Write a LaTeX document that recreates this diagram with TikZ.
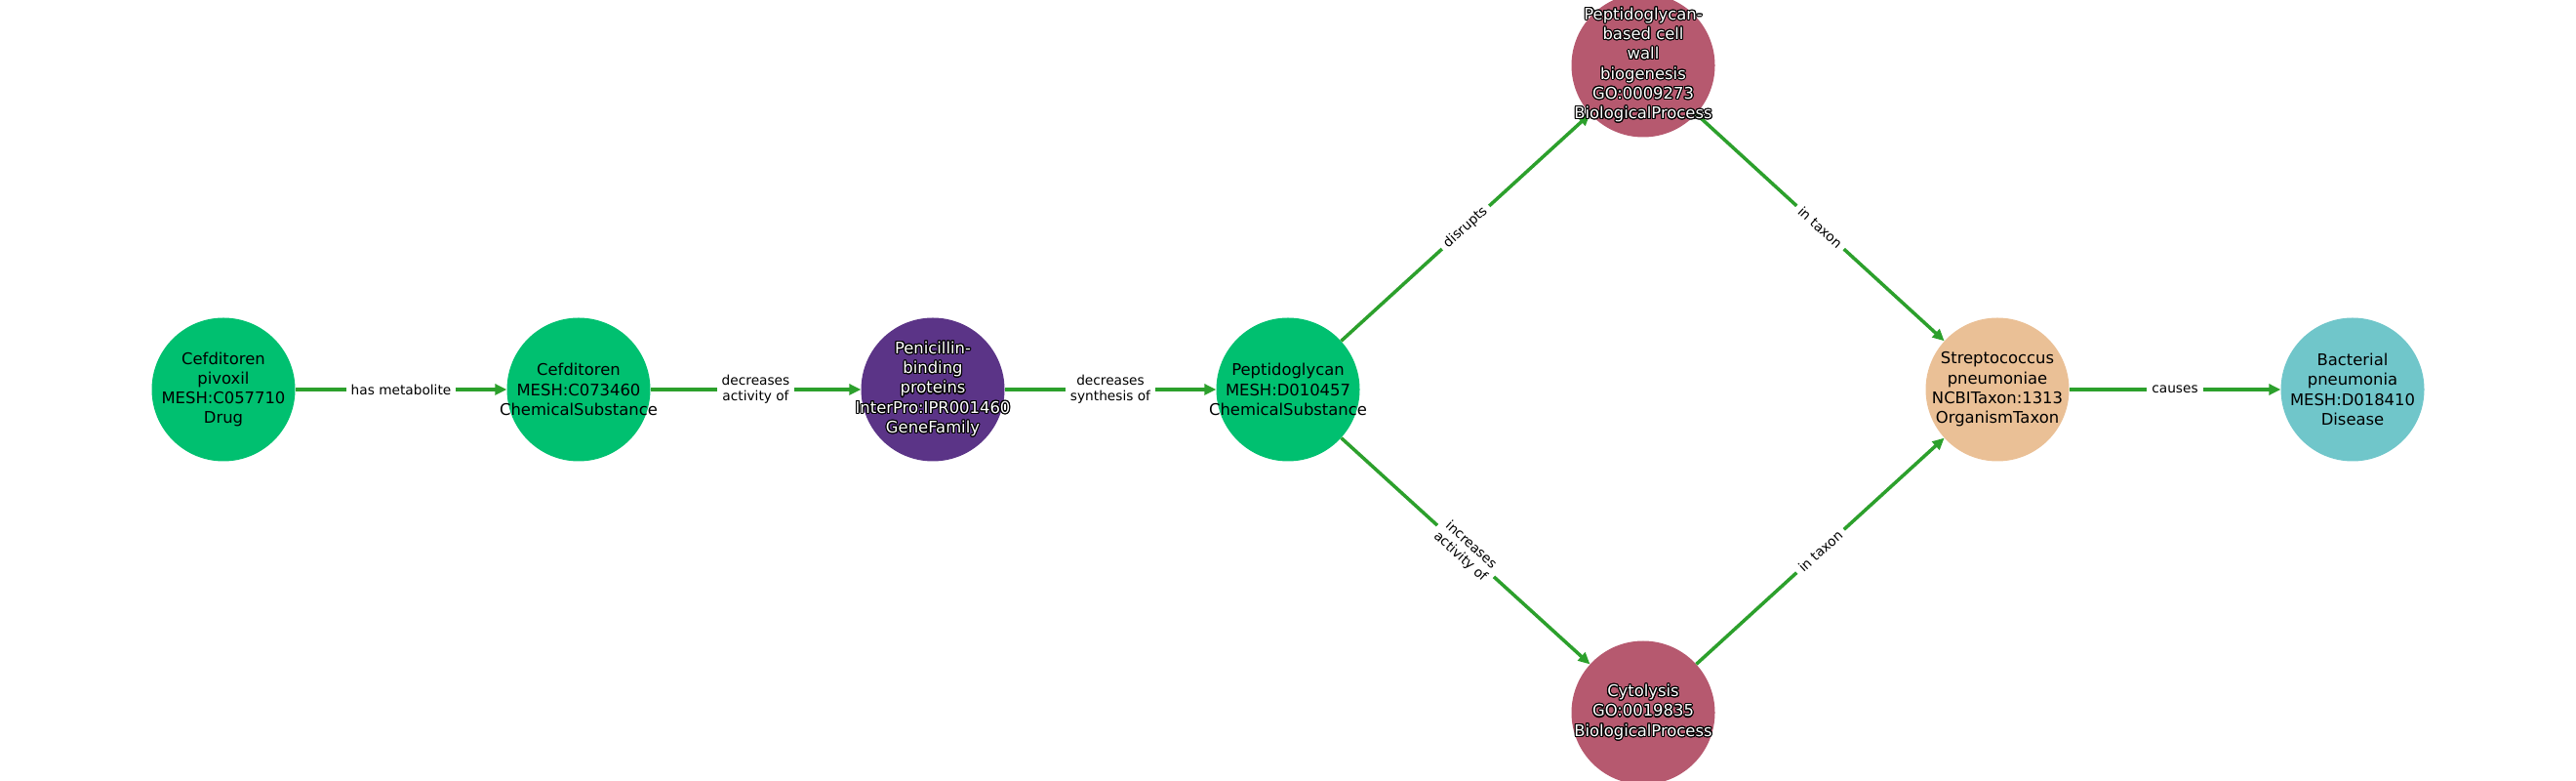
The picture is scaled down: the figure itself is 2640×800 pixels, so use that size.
\documentclass[tikz,border=0pt]{standalone}
\usepackage{fontspec}
\setmainfont{DejaVu Sans}
\usepackage{contour}
\usetikzlibrary{arrows.meta}
\definecolor{chemgreen}{RGB}{0,192,112}
\definecolor{genepurple}{RGB}{91,52,135}
\definecolor{processrose}{RGB}{182,89,111}
\definecolor{taxonpeach}{RGB}{234,192,150}
\definecolor{diseaseteal}{RGB}{112,198,202}
\definecolor{edgegreen}{RGB}{44,160,44}
\contourlength{1.1pt}
\newcommand{\outlined}[1]{\contour{black}{#1}}

\begin{document}
\begin{tikzpicture}[x=1pt, y=1pt,
    ent/.style={circle, minimum size=147pt, inner sep=0pt},
    enttext/.style={align=center, inner sep=0pt, font=\fontsize{16.4}{20.3}\selectfont},
    darktext/.style={enttext, text=white},
    edge/.style={draw=edgegreen, line width=3.5pt, -{Triangle[length=12pt,width=11pt]}},
    elbl/.style={fill=white, text=black, inner xsep=5pt, inner ysep=2pt, align=center,
        font=\fontsize{13.7}{16}\selectfont}]
    \useasboundingbox (0,0) rectangle (2640,800);

    % Entities
    \node[ent, fill=chemgreen] (drug) at (229,401) {};
    \node[ent, fill=chemgreen] (cefd) at (593,401) {};
    \node[ent, fill=genepurple] (pbp) at (956,401) {};
    \node[ent, fill=chemgreen] (pg) at (1320,401) {};
    \node[ent, fill=processrose] (wall) at (1684,733) {};
    \node[ent, fill=processrose] (lysis) at (1684,70) {};
    \node[ent, fill=taxonpeach] (strep) at (2047,401) {};
    \node[ent, fill=diseaseteal] (pneu) at (2411,401) {};

    % Relations
    \draw[edge] (drug) -- node[elbl] {has metabolite} (cefd);
    \draw[edge] (cefd) -- node[elbl] {decreases\\activity of} (pbp);
    \draw[edge] (pbp) -- node[elbl] {decreases\\synthesis of} (pg);
    \draw[edge] (pg) -- node[elbl, sloped] {disrupts} (wall);
    \draw[edge] (pg) -- node[elbl, sloped] {increases\\activity of} (lysis);
    \draw[edge] (wall) -- node[elbl, sloped] {in taxon} (strep);
    \draw[edge] (lysis) -- node[elbl, sloped] {in taxon} (strep);
    \draw[edge] (strep) -- node[elbl] {causes} (pneu);

    % Entity texts
    \node[enttext] (drug-t) at (drug) {Cefditoren\\pivoxil\\MESH:C057710\\Drug};
    \node[enttext] (cefd-t) at (cefd) {Cefditoren\\MESH:C073460\\ChemicalSubstance};
    \node[darktext] (pbp-t) at (pbp) {\outlined{Penicillin-}\\\outlined{binding}\\\outlined{proteins}\\\outlined{InterPro:IPR001460}\\\outlined{GeneFamily}};
    \node[enttext] (pg-t) at (pg) {Peptidoglycan\\MESH:D010457\\ChemicalSubstance};
    \node[darktext] (wall-t) at (wall) {\outlined{Peptidoglycan-}\\\outlined{based cell}\\\outlined{wall}\\\outlined{biogenesis}\\\outlined{GO:0009273}\\\outlined{BiologicalProcess}};
    \node[darktext] (lysis-t) at (lysis) {\outlined{Cytolysis}\\\outlined{GO:0019835}\\\outlined{BiologicalProcess}};
    \node[enttext] (strep-t) at (strep) {Streptococcus\\pneumoniae\\NCBITaxon:1313\\OrganismTaxon};
    \node[enttext] (pneu-t) at (pneu) {Bacterial\\pneumonia\\MESH:D018410\\Disease};
\end{tikzpicture}
\end{document}
